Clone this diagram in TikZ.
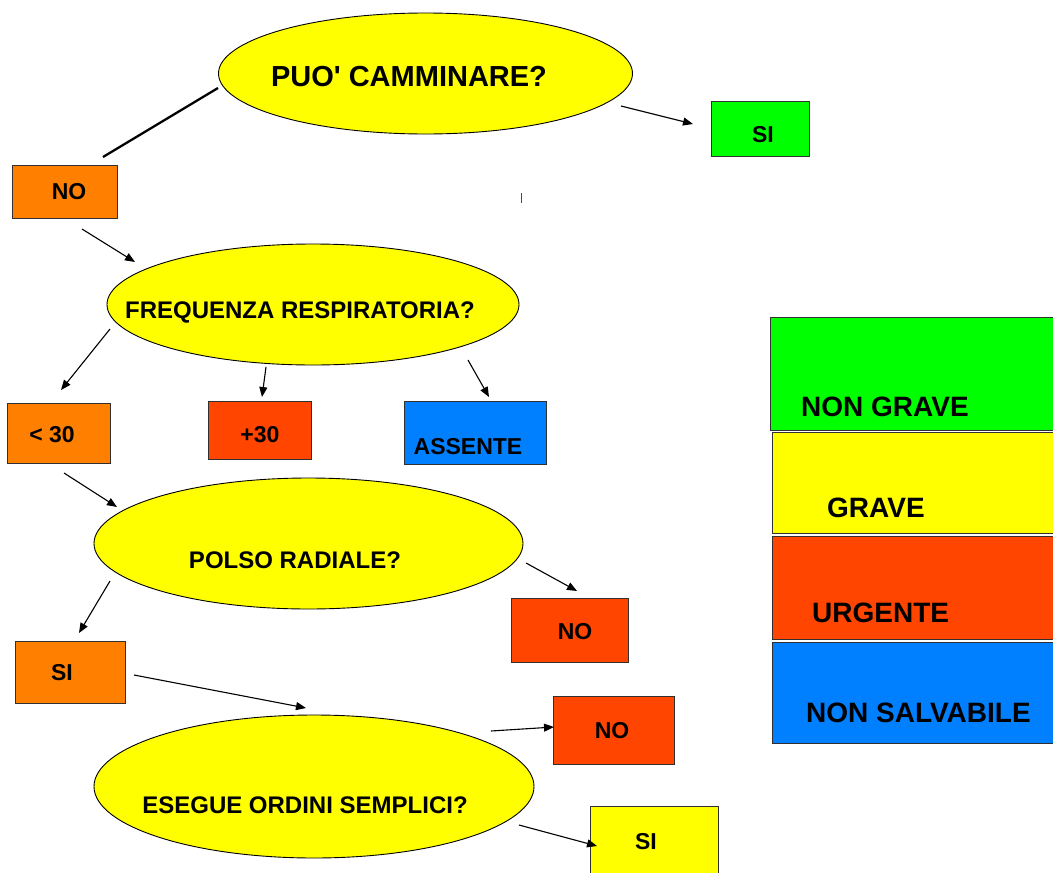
\documentclass[tikz,border=0pt]{standalone}
\usepackage{fontspec}
\setmainfont{Liberation Sans}[Ligatures=TeXOff]
\usetikzlibrary{shapes.geometric,arrows.meta}
\definecolor{cyel}{HTML}{FFFF00}
\definecolor{corg}{HTML}{FF8000}
\definecolor{cred}{HTML}{FF4500}
\definecolor{cgrn}{HTML}{00FF00}
\definecolor{cblu}{HTML}{0080FF}
\definecolor{cedge}{HTML}{303030}
\begin{document}
\begin{tikzpicture}[x=1pt,y=-1pt,
  oval/.style={ellipse,draw=black,line width=0.9pt,fill=cyel,inner sep=0pt},
  box/.style={rectangle,draw=cedge,line width=1pt,inner sep=0pt,anchor=north west},
  qtext/.style={font=\bfseries\fontsize{24}{24}\selectfont,inner sep=0pt},
  btext/.style={font=\bfseries\fontsize{23}{23}\selectfont,inner sep=0pt},
  ltext/.style={font=\bfseries\fontsize{28}{28}\selectfont,inner sep=0pt,anchor=west},
  arr/.style={line width=1.1pt,-{Triangle[length=10pt,width=8pt]}}
]
\useasboundingbox (0,0) rectangle (1053,873);
\fill[white] (0,0) rectangle (1053,873);

% ellipses
\node[oval,minimum width=414pt,minimum height=121pt] (puo) at (425.5,73.5) {};
\node[qtext,font=\bfseries\fontsize{29}{29}\selectfont] (puot) at (409,77) {PUO' CAMMINARE?};
\node[oval,minimum width=412pt,minimum height=121pt] (freq) at (313,304.5) {};
\node[qtext] (freqt) at (300,312) {FREQUENZA RESPIRATORIA?};
\node[oval,minimum width=429pt,minimum height=131pt] (polso) at (308.5,543.5) {};
\node[qtext] (polsot) at (295,560) {POLSO RADIALE?};
\node[oval,minimum width=440pt,minimum height=143pt] (eseg) at (314,786.5) {};
\node[qtext] (esegt) at (305,805) {ESEGUE ORDINI SEMPLICI?};

% answer boxes
\node[box,fill=corg,minimum width=105pt,minimum height=53pt] (no1) at (12,165) {};
\node[btext] (no1t) at (69,192) {NO};
\node[box,fill=cgrn,minimum width=98pt,minimum height=55pt] (sig) at (711,101) {};
\node[btext] (sigt) at (763,135) {SI};
\node[box,fill=corg,minimum width=103pt,minimum height=60pt] (lt) at (7,403) {};
\node[btext] (ltt) at (52,435) {< 30};
\node[box,fill=cred,minimum width=103pt,minimum height=58pt] (pt) at (208,401) {};
\node[btext] (ptt) at (260,435) {+30};
\node[box,fill=cblu,minimum width=142pt,minimum height=63pt] (ass) at (404,401) {};
\node[btext] (asst) at (468,447) {ASSENTE};
\node[box,fill=cred,minimum width=117pt,minimum height=64pt] (nop) at (511,598) {};
\node[btext] (nopt) at (575,632) {NO};
\node[box,fill=corg,minimum width=110pt,minimum height=62pt] (sio) at (15,641) {};
\node[btext] (siot) at (62,673) {SI};
\node[box,fill=cred,minimum width=121pt,minimum height=68pt] (no2) at (553,696) {};
\node[btext] (no2t) at (612,731) {NO};
\node[box,fill=cyel,minimum width=128pt,minimum height=80pt] (siy) at (590,806) {};
\node[btext] (siyt) at (646,842) {SI};

% legend
\node[box,fill=cgrn,minimum width=300pt,minimum height=113pt] (lg) at (770,317) {};
\node[ltext] (lgt) at (801,407) {NON GRAVE};
\node[box,fill=cyel,minimum width=300pt,minimum height=101pt] (ly) at (772,432) {};
\node[ltext] (lyt) at (827,508) {GRAVE};
\node[box,fill=cred,minimum width=300pt,minimum height=103pt] (lr) at (772,536) {};
\node[ltext] (lrt) at (812,613) {URGENTE};
\node[box,fill=cblu,minimum width=300pt,minimum height=101pt] (lb) at (772,642) {};
\node[ltext] (lbt) at (806,713) {NON SALVABILE};

% connector end points
\coordinate (l0s) at (218,88);   \coordinate (l0e) at (103,157);
\coordinate (a1s) at (82,229);   \coordinate (a1e) at (135,262);
\coordinate (a2s) at (621,106);  \coordinate (a2e) at (693,124);
\coordinate (a3s) at (110,329);  \coordinate (a3e) at (61,390);
\coordinate (a4s) at (266,367);  \coordinate (a4e) at (262,397);
\coordinate (a5s) at (468,360);  \coordinate (a5e) at (489,397);
\coordinate (a6s) at (64,473);   \coordinate (a6e) at (117,507);
\coordinate (a7s) at (526,563);  \coordinate (a7e) at (577,591);
\coordinate (a8s) at (110,581);  \coordinate (a8e) at (79,633);
\coordinate (a9s) at (134,675);  \coordinate (a9e) at (306,708);
\coordinate (a10s) at (491,731); \coordinate (a10e) at (554,727);
\coordinate (a11s) at (519,825); \coordinate (a11e) at (597,846);

\draw[line width=2.3pt] (l0s) -- (l0e);
\draw[arr] (a1s) -- (a1e);
\draw[arr] (a2s) -- (a2e);
\draw[arr] (a3s) -- (a3e);
\draw[arr] (a4s) -- (a4e);
\draw[arr] (a5s) -- (a5e);
\draw[arr] (a6s) -- (a6e);
\draw[arr] (a7s) -- (a7e);
\draw[arr] (a8s) -- (a8e);
\draw[arr] (a9s) -- (a9e);
\draw[arr] (a10s) -- (a10e);
\draw[arr] (a11s) -- (a11e);

% small stray tick
\draw[line width=1pt,black!70] (521,193) -- (521,203);
\end{tikzpicture}
\end{document}
